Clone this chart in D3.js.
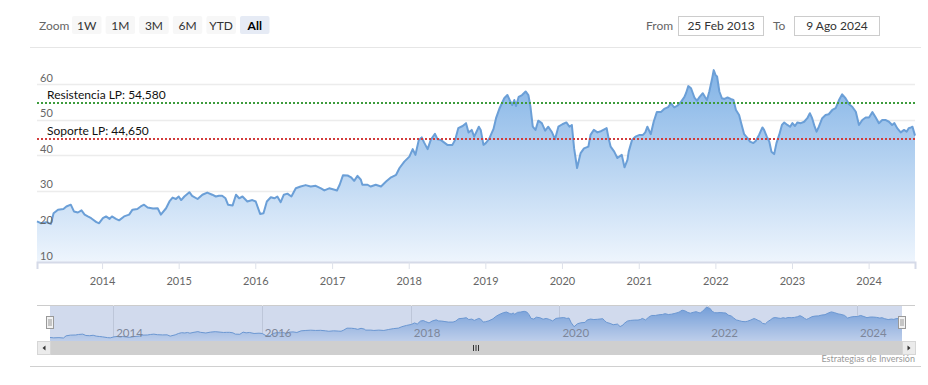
<!DOCTYPE html>
<html>
<head>
<meta charset="utf-8">
<script src="https://cdn.jsdelivr.net/npm/d3@7"></script>
<style>
  body { margin: 0; background: #fff; }
  svg { display: block; font-family: Lato, "Liberation Sans", sans-serif; }
</style>
</head>
<body>
<svg id="chart"></svg>
<script>
// price series
const dates = [
  '2013-02-25','2013-03-15','2013-04-10','2013-05-02','2013-05-15','2013-06-05','2013-07-01','2013-07-15',
  '2013-08-05','2013-08-20','2013-09-08','2013-09-25','2013-10-10','2013-10-25','2013-11-10','2013-12-05',
  '2013-12-18','2014-01-05','2014-01-20','2014-02-06','2014-02-17','2014-03-08','2014-03-23','2014-04-16',
  '2014-05-10','2014-05-26','2014-06-18','2014-07-04','2014-07-20','2014-08-06','2014-09-01','2014-09-23',
  '2014-10-08','2014-11-02','2014-11-18','2014-12-03','2014-12-19','2015-01-01','2015-01-13','2015-01-28',
  '2015-02-21','2015-03-06','2015-04-01','2015-04-24','2015-05-17','2015-06-10','2015-06-27','2015-07-12',
  '2015-07-27','2015-08-12','2015-08-24','2015-09-15','2015-10-01','2015-10-16','2015-11-01','2015-11-24',
  '2015-12-18','2016-01-03','2016-01-24','2016-02-09','2016-02-25','2016-03-15','2016-04-01','2016-04-15',
  '2016-05-01','2016-05-16','2016-06-02','2016-06-21','2016-07-12','2016-08-04','2016-08-28','2016-09-21',
  '2016-10-15','2016-11-09','2016-11-25','2016-12-18','2017-01-13','2017-01-24','2017-02-06','2017-02-22',
  '2017-03-16','2017-04-01','2017-04-16','2017-05-02','2017-05-18','2017-05-25','2017-06-19','2017-07-04',
  '2017-07-28','2017-08-22','2017-09-15','2017-10-09','2017-11-02','2017-11-18','2017-12-11','2018-01-04',
  '2018-01-20','2018-02-02','2018-02-18','2018-03-04','2018-03-15','2018-04-01','2018-04-16','2018-05-06',
  '2018-05-18','2018-06-02','2018-06-18','2018-07-04','2018-07-28','2018-08-10','2018-08-25','2018-09-15',
  '2018-10-01','2018-10-13','2018-10-28','2018-11-09','2018-12-01','2018-12-10','2018-12-23','2019-01-03',
  '2019-01-19','2019-02-09','2019-02-21','2019-03-10','2019-04-01','2019-04-16','2019-05-01','2019-05-09',
  '2019-05-19','2019-05-27','2019-06-09','2019-06-25','2019-07-12','2019-07-25','2019-08-04','2019-08-15',
  '2019-08-28','2019-09-10','2019-09-27','2019-10-13','2019-10-28','2019-11-13','2019-11-29','2019-12-15',
  '2020-01-03','2020-01-22','2020-02-06','2020-02-17','2020-02-28','2020-03-13','2020-03-30','2020-04-15',
  '2020-05-06','2020-05-16','2020-06-01','2020-06-18','2020-07-07','2020-08-01','2020-08-10','2020-08-20',
  '2020-09-06','2020-09-21','2020-10-12','2020-10-25','2020-11-08','2020-11-14','2020-11-30','2020-12-16',
  '2021-01-05','2021-01-21','2021-02-01','2021-02-11','2021-02-27','2021-03-13','2021-03-28','2021-04-16',
  '2021-05-02','2021-05-21','2021-06-03','2021-06-19','2021-07-04','2021-07-21','2021-08-06','2021-08-14',
  '2021-08-25','2021-09-07','2021-09-23','2021-10-05','2021-10-18','2021-11-02','2021-11-12','2021-11-22',
  '2021-12-03','2021-12-15','2021-12-24','2022-01-02','2022-01-09','2022-01-20','2022-02-01','2022-02-13',
  '2022-02-28','2022-03-15','2022-03-28','2022-04-09','2022-04-24','2022-05-04','2022-05-18','2022-06-03',
  '2022-06-15','2022-07-01','2022-07-12','2022-07-28','2022-08-13','2022-08-21','2022-09-03','2022-09-15',
  '2022-09-25','2022-10-08','2022-10-19','2022-11-01','2022-11-14','2022-11-25','2022-12-10','2022-12-23',
  '2023-01-03','2023-01-15','2023-01-27','2023-02-12','2023-02-28','2023-03-15','2023-03-27','2023-04-07',
  '2023-04-19','2023-04-28','2023-05-09','2023-05-25','2023-06-10','2023-06-25','2023-07-12','2023-07-28',
  '2023-08-13','2023-08-28','2023-09-13','2023-09-30','2023-10-15','2023-11-01','2023-11-16','2023-12-02',
  '2023-12-18','2024-01-03','2024-01-19','2024-02-04','2024-02-19','2024-03-06','2024-03-21','2024-04-07',
  '2024-04-22','2024-05-03','2024-05-16','2024-06-02','2024-06-18','2024-06-30','2024-07-10','2024-07-21',
  '2024-07-28','2024-08-09'
]
const prices = [
  21.4,20.9,21.2,20.7,23.7,24.7,24.9,25.6,
  26.1,24.2,23.9,24.5,23.3,22.8,22.3,21.2,
  20.9,22.3,22.8,22.1,22.8,22.1,21.7,22.8,
  23.3,24.7,24.9,25.6,26.1,25.3,25.0,25.1,
  23.3,25.1,27.0,28.1,27.7,28.4,27.4,28.4,
  29.6,28.6,27.7,28.9,29.5,28.9,28.4,28.6,
  28.6,27.9,26.1,25.9,28.9,27.9,28.4,27.0,
  27.4,27.0,23.5,23.7,27.0,28.2,27.9,28.4,
  26.8,28.9,29.2,28.4,30.7,31.2,31.6,31.2,
  31.4,30.7,30.1,30.7,30.3,30.1,31.7,34.4,
  34.3,33.8,32.8,34.2,33.1,31.7,31.7,31.2,
  31.7,31.2,32.6,33.8,34.5,36.4,38.2,39.6,
  41.7,40.1,44.3,45.0,43.6,41.7,44.3,46.0,
  44.5,44.3,43.6,42.9,42.9,44.3,47.6,48.2,
  49.0,46.4,47.1,45.2,48.0,47.1,42.9,43.4,
  44.6,47.4,50.4,53.2,56.0,56.9,55.0,54.1,
  55.5,53.8,56.4,56.9,57.9,56.9,53.6,48.0,
  47.1,49.7,49.0,46.9,48.0,46.6,44.5,48.0,
  48.7,49.2,48.0,48.5,41.9,36.4,40.6,41.9,
  42.4,45.7,47.1,46.4,46.8,47.6,44.8,42.4,
  41.0,39.2,40.1,36.6,38.7,41.0,44.3,45.2,
  45.7,45.7,46.4,48.0,45.9,49.4,52.1,52.1,
  53.0,53.5,54.6,53.4,53.9,55.0,56.3,57.4,
  59.4,58.8,56.2,55.3,56.4,57.4,56.4,55.5,
  57.9,61.1,63.9,62.5,62.1,57.9,56.0,55.8,
  56.2,55.8,55.5,52.7,51.3,49.0,45.9,44.8,
  43.8,43.4,44.0,45.7,47.8,47.1,45.2,43.8,
  41.0,40.3,43.4,45.7,48.5,49.2,48.5,48.0,
  49.0,48.2,49.2,49.0,49.4,50.4,51.8,50.4,
  48.0,46.6,48.0,50.4,51.3,51.5,52.7,53.2,
  55.5,57.1,56.0,54.3,53.6,52.2,48.5,49.9,
  50.6,50.6,52.1,50.6,49.0,49.9,49.9,49.4,
  48.5,49.0,47.6,46.4,47.1,46.6,47.6,47.8,
  48.0,45.5
]

const yTicks = [10, 20, 30, 40, 50, 60]
const yMax = 70
const xTickYears = [2014, 2015, 2016, 2017, 2018, 2019, 2020, 2021, 2022, 2023, 2024]
const navTickYears = [2014, 2016, 2018, 2020, 2022, 2024]

const levelValues = [54.58, 44.65]
const levelLabels = ['Resistencia LP: 54,580', 'Soporte LP: 44,650']

const zoomButtons = ['1W', '1M', '3M', '6M', 'YTD', 'All']
const fromText = '25 Feb 2013'
const toText = '9 Ago 2024'
const creditText = 'Estrategias de Inversión'

// layout
const width = 928
const height = 385
const plot = { left: 37, right: 915, top: 48.4, bottom: 262 }
const nav = { left: 50, right: 902, top: 305, bottom: 341 }
const scroll = { left: 37, right: 915, top: 341, bottom: 355 }

const svg = d3.select('svg#chart').attr('width', width).attr('height', height)

const parse = d3.timeParse('%Y-%m-%d')
const data = dates.map((d, i) => ({ date: parse(d), value: prices[i] }))

const xScale = d3.scaleTime()
  .domain(d3.extent(data, d => d.date))
  .range([plot.left, plot.right])
const yScale = d3.scaleLinear()
  .domain([yTicks[0], yMax])
  .range([plot.bottom, plot.top])

// gradients
const defs = svg.append('defs')
const grad = defs.append('linearGradient').attr('id', 'areaGrad')
  .attr('x1', 0).attr('y1', 0).attr('x2', 0).attr('y2', 1)
grad.append('stop').attr('offset', 0).attr('stop-color', '#82b3e6')
grad.append('stop').attr('offset', 1).attr('stop-color', '#eef5fd')
const navGrad = defs.append('linearGradient').attr('id', 'navGrad')
  .attr('x1', 0).attr('y1', 0).attr('x2', 0).attr('y2', 1)
navGrad.append('stop').attr('offset', 0).attr('stop-color', '#7aaae2')
navGrad.append('stop').attr('offset', 1).attr('stop-color', '#e4eefb')

// frame lines
svg.append('line').attr('x1', 30).attr('x2', 921).attr('y1', 47.5).attr('y2', 47.5)
  .attr('stroke', '#e6e6e6')
svg.append('line').attr('x1', 30).attr('x2', 921).attr('y1', 366.5).attr('y2', 366.5)
  .attr('stroke', '#d0d0d0')

// y grid
svg.append('g').selectAll('line').data(yTicks.slice(1))
  .enter().append('line')
  .attr('x1', plot.left).attr('x2', plot.right)
  .attr('y1', d => Math.round(yScale(d)) + 0.5).attr('y2', d => Math.round(yScale(d)) + 0.5)
  .attr('stroke', '#ececec').attr('stroke-width', 1.5)

// area series
const area = d3.area()
  .x(d => xScale(d.date))
  .y0(yScale(yTicks[0]))
  .y1(d => yScale(d.value))
const line = d3.line()
  .x(d => xScale(d.date))
  .y(d => yScale(d.value))

svg.append('path').datum(data).attr('d', area).attr('fill', 'url(#areaGrad)')
svg.append('path').datum(data).attr('d', line)
  .attr('fill', 'none').attr('stroke', '#6b9fd7').attr('stroke-width', 2)
  .attr('stroke-linejoin', 'round')

// y labels on top of the series
svg.append('g').selectAll('text').data(yTicks)
  .enter().append('text')
  .attr('x', 40).attr('y', d => yScale(d) - 2.5)
  .attr('fill', '#666').attr('font-size', 11)
  .text(d => d)

// support / resistance lines
const levelColors = ['#3c9c3c', '#d23c3c']
levelValues.forEach((v, i) => {
  const y = Math.round(yScale(v))
  svg.append('line').attr('x1', plot.left).attr('x2', plot.right).attr('y1', y).attr('y2', y)
    .attr('stroke', levelColors[i]).attr('stroke-width', 2)
    .attr('stroke-dasharray', '2,2')
  svg.append('text').attr('x', 47).attr('y', y - 4)
    .attr('font-size', 12).attr('fill', '#111')
    .text(levelLabels[i])
})

// x axis
const xAxis = svg.append('g')
  .attr('transform', 'translate(0,' + plot.bottom + ')')
  .call(d3.axisBottom(xScale)
    .tickValues(xTickYears.map(y => new Date(y, 0, 1)))
    .tickFormat(d3.timeFormat('%Y'))
    .tickSize(7).tickPadding(8))
xAxis.select('.domain').attr('stroke', '#d5dae8').attr('stroke-width', 2)
xAxis.selectAll('.tick line').attr('stroke', '#dde1ea')
xAxis.selectAll('.tick text').attr('fill', '#666').attr('font-size', 11)
  .attr('font-family', 'Lato, sans-serif')

// navigator
const navX = d3.scaleTime().domain(xScale.domain()).range([nav.left, nav.right])
const navY = d3.scaleLinear().domain(d3.extent(prices)).range([338, 307])

svg.append('line').attr('x1', plot.left).attr('x2', plot.right).attr('y1', nav.top + 0.5).attr('y2', nav.top + 0.5)
  .attr('stroke', '#cccccc')

const navG = svg.append('g')
navG.selectAll('line').data(navTickYears)
  .enter().append('line')
  .attr('x1', d => Math.round(navX(new Date(d, 0, 1))) + 0.5)
  .attr('x2', d => Math.round(navX(new Date(d, 0, 1))) + 0.5)
  .attr('y1', nav.top).attr('y2', nav.bottom)
  .attr('stroke', '#e2e2e2')

navG.append('path').datum(data)
  .attr('d', d3.area().x(d => navX(d.date)).y0(nav.bottom).y1(d => navY(d.value)))
  .attr('fill', 'url(#navGrad)')
navG.append('path').datum(data)
  .attr('d', d3.line().x(d => navX(d.date)).y(d => navY(d.value)))
  .attr('fill', 'none').attr('stroke', '#6d9fd8').attr('stroke-width', 1)

navG.selectAll('text').data(navTickYears)
  .enter().append('text')
  .attr('x', d => navX(new Date(d, 0, 1)) + 3).attr('y', 337)
  .attr('fill', '#888').attr('font-size', 11.5)
  .text(d => d)

// selected range mask
svg.append('rect').attr('x', nav.left).attr('y', nav.top + 1)
  .attr('width', nav.right - nav.left).attr('height', nav.bottom - nav.top - 1)
  .attr('fill', 'rgba(102,133,194,0.3)')

// handles
;[nav.left, nav.right].forEach(hx => {
  const g = svg.append('g').attr('transform', 'translate(' + Math.round(hx) + ',316)')
  g.append('rect').attr('x', -3.5).attr('y', 0.5).attr('width', 7).attr('height', 12)
    .attr('fill', '#f2f2f2').attr('stroke', '#999')
  g.append('line').attr('x1', -1).attr('x2', -1).attr('y1', 3).attr('y2', 10).attr('stroke', '#999')
  g.append('line').attr('x1', 1).attr('x2', 1).attr('y1', 3).attr('y2', 10).attr('stroke', '#999')
})

// scrollbar
svg.append('rect').attr('x', scroll.left).attr('y', scroll.top)
  .attr('width', scroll.right - scroll.left).attr('height', scroll.bottom - scroll.top)
  .attr('fill', '#f2f2f2')
svg.append('rect').attr('x', nav.left).attr('y', scroll.top)
  .attr('width', nav.right - nav.left).attr('height', scroll.bottom - scroll.top)
  .attr('fill', '#cfcfcf')
const gripX = (nav.left + nav.right) / 2
;[-2.5, 0, 2.5].forEach(o => {
  svg.append('line').attr('x1', gripX + o).attr('x2', gripX + o).attr('y1', 345).attr('y2', 351)
    .attr('stroke', '#333').attr('stroke-width', 1)
})
// scroll buttons
;[[scroll.left, -1], [nav.right, 1]].forEach(([bx, dir]) => {
  svg.append('rect').attr('x', bx + 0.5).attr('y', scroll.top + 0.5).attr('width', 13).attr('height', 13)
    .attr('fill', '#ebebeb').attr('stroke', '#d6d6d6')
  const cx = bx + 7, cy = scroll.top + 7
  svg.append('path')
    .attr('d', 'M' + (cx - dir * 1.5) + ',' + (cy - 2.5) + 'L' + (cx + dir * 1.5) + ',' + cy + 'L' + (cx - dir * 1.5) + ',' + (cy + 2.5) + 'Z')
    .attr('fill', '#333')
})

// credits
svg.append('text').attr('x', 915).attr('y', 362).attr('text-anchor', 'end')
  .attr('font-size', 9).attr('fill', '#999')
  .text(creditText)

// range selector
svg.append('text').attr('x', 39).attr('y', 29.5).attr('font-size', 12).attr('fill', '#666').text('Zoom')
const btnG = svg.append('g').selectAll('g').data(zoomButtons)
  .enter().append('g')
  .attr('transform', (d, i) => 'translate(' + (72 + i * 33.6) + ',16)')
btnG.append('rect').attr('width', 29.5).attr('height', 18).attr('rx', 2)
  .attr('fill', d => d === 'All' ? '#e6ebf5' : '#f7f7f7')
btnG.append('text').attr('x', 14.75).attr('y', 13.5).attr('text-anchor', 'middle')
  .attr('font-size', 12).attr('fill', d => d === 'All' ? '#000' : '#333')
  .attr('font-weight', d => d === 'All' ? 'bold' : 'normal')
  .text(d => d)

// date inputs
svg.append('text').attr('x', 646).attr('y', 29.5).attr('font-size', 12).attr('fill', '#666').text('From')
svg.append('rect').attr('x', 678.5).attr('y', 16.5).attr('width', 85).attr('height', 19)
  .attr('fill', '#fff').attr('stroke', '#cccccc')
svg.append('text').attr('x', 721).attr('y', 30).attr('text-anchor', 'middle')
  .attr('font-size', 12).attr('fill', '#333').text(fromText)
svg.append('text').attr('x', 773).attr('y', 29.5).attr('font-size', 12).attr('fill', '#666').text('To')
svg.append('rect').attr('x', 794.5).attr('y', 16.5).attr('width', 85).attr('height', 19)
  .attr('fill', '#fff').attr('stroke', '#cccccc')
svg.append('text').attr('x', 837).attr('y', 30).attr('text-anchor', 'middle')
  .attr('font-size', 12).attr('fill', '#333').text(toText)
</script>
</body>
</html>
